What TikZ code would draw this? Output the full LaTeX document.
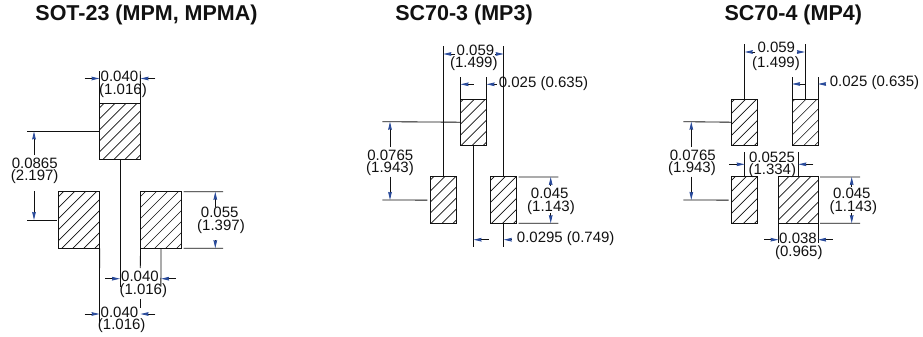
\documentclass[tikz,border=0pt]{standalone}
\usepackage{fontspec}
\setmainfont{Liberation Sans}
\usetikzlibrary{arrows.meta}
\definecolor{dimblue}{HTML}{2A4B9B}
\definecolor{ink}{HTML}{111111}
\tikzset{
  pad/.style={draw=ink,line width=1pt,inner sep=0pt,outer sep=0pt,
    minimum width=#1,minimum height=56.5pt,
    path picture={\foreach \d in {-99,-88,...,99}{
      \draw[ink,line width=0.65pt] ([xshift=\d pt]path picture bounding box.center)
        ++(-60pt,-60pt) -- ++(120pt,120pt);}}},
  pad/.default=41pt,
  pnarrow/.style={pad=26pt,minimum height=46.3pt},
  pwide/.style={pad=39.4pt,minimum height=46.3pt},
  ext/.style={draw=ink,line width=0.85pt},
  dim/.style={draw=ink,line width=0.85pt,-{Stealth[inset=0.5pt,length=8pt,width=3.6pt,color=dimblue]}},
  lbl/.style={inner sep=0pt,text=ink,font=\fontsize{15}{15}\selectfont},
  ttl/.style={inner sep=0pt,text=ink,font=\fontsize{21.5}{21.5}\selectfont\bfseries}
}
\begin{document}
\begin{tikzpicture}[x=1pt,y=-1pt]
\useasboundingbox (0,0) rectangle (923,337);
% titles
\node[ttl] (t1) at (146.5,15) {SOT-23 (MPM, MPMA)};
\node[ttl] (t2) at (464,15) {SC70-3 (MP3)};
\node[ttl] (t3) at (793.3,15) {SC70-4 (MP4)};
% ---------- SOT-23
\node[pad] (a) at (120,131.4) {};
\node[pad] (b) at (79.1,220) {};
\node[pad] (c) at (161,220) {};
\coordinate (a1) at (99.5,71); \coordinate (a2) at (140.3,71);
\draw[ext] (a.north west) -- (a1);
\draw[ext] (a.north east) -- (a2);
\coordinate (a3) at (84.7,78.5); \coordinate (a4) at (155.3,78.5);
\draw[dim] (a3) -- (a.north west |- a3);
\draw[dim] (a4) -- (a.north east |- a4);
\node[lbl] (l1) at (119.5,76.7) {0.040};
\node[lbl] (l2) at (123,91) {(1.016)};
\coordinate (a5) at (26.7,131.4); \coordinate (a6) at (26.7,220);
\draw[ext] (a.west) -- (a5);
\draw[ext] (b.west) ++(-2pt,0pt) -- (a6);
\coordinate (a7) at (34,155); \coordinate (a8) at (34,191);
\draw[dim] (a7) -- (a7 |- a.west);
\draw[dim] (a8) -- (a8 |- b.west);
\node[lbl] (l3) at (34.7,163) {0.0865};
\node[lbl] (l4) at (34.7,177) {(2.197)};
\coordinate (a9) at (223,191.7); \coordinate (a10) at (223,248.3);
\draw[ext] ([xshift=2pt]c.north east) -- (a9);
\draw[ext] ([xshift=2pt]c.south east) -- (a10);
\coordinate (a11) at (215.3,206.7); \coordinate (a12) at (215.3,240);
\draw[dim] (a11) -- (a11 |- c.north east);
\draw[dim] (a12) -- (a12 |- c.south east);
\node[lbl] (l5) at (219.7,212.7) {0.055};
\node[lbl] (l6) at (221,226.7) {(1.397)};
\coordinate (a13) at (120,286.7); \coordinate (a14) at (160.9,286.7);
\draw[ext] (a.south) -- (a13);
\draw[ext] (c.south) -- (a14);
\coordinate (a15) at (105,278.7); \coordinate (a16) at (175.7,278.7);
\draw[dim] (a15) -- (a.south |- a15);
\draw[dim] (a16) -- (c.south |- a16);
\node[lbl] (l7) at (140,276.7) {0.040};
\node[lbl] (l8) at (143.3,291) {(1.016)};
\coordinate (a17) at (99.5,323); \coordinate (a18) at (140.3,268);
\coordinate (a19) at (140.3,298.5); \coordinate (a20) at (140.3,308);
\draw[ext] (b.south east) -- (a17);
\draw[ext] (c.south west) -- (a18);
\draw[ext] (a19) -- (a20);
\coordinate (a21) at (84.7,314); \coordinate (a22) at (155.3,314);
\draw[dim] (a21) -- (b.south east |- a21);
\draw[dim] (a22) -- (c.south west |- a22);
\node[lbl] (l9) at (119.5,312.7) {0.040};
\node[lbl] (l10) at (121.7,326) {(1.016)};
% ---------- SC70-3
\node[pnarrow] (d) at (473.5,122.2) {};
\node[pnarrow] (e) at (443.3,200.1) {};
\node[pnarrow] (f) at (503.7,200.1) {};
\coordinate (d1) at (443.3,46); \coordinate (d2) at (503.7,46);
\draw[ext] (e.north) -- (d1);
\draw[ext] (f.north) -- (d2);
\coordinate (d3) at (455,54); \coordinate (d4) at (495,54);
\draw[dim] (d3) -- (e.north |- d3);
\draw[dim] (d4) -- (f.north |- d4);
\node[lbl] (m1) at (475.5,50) {0.059};
\node[lbl] (m2) at (473.8,64) {(1.499)};
\coordinate (d5) at (460.5,76.7); \coordinate (d6) at (486.5,76.7);
\draw[ext] (d.north west) -- (d5);
\draw[ext] (d.north east) -- (d6);
\coordinate (d7) at (473.5,84.3); \coordinate (d8) at (496.7,84.3);
\draw[dim] (d7) -- (d.north west |- d7);
\draw[dim] (d8) -- (d.north east |- d8);
\node[lbl] (m3) at (543.5,84) {0.025 (0.635)};
\coordinate (d9) at (382.3,121.7); \coordinate (d10) at (382.3,200);
\draw[ext] (d.west) -- (d9);
\draw[ext] ([xshift=-3pt]e.west) -- (d10);
\coordinate (d11) at (390,146.7); \coordinate (d12) at (390,176.7);
\draw[dim] (d11) -- (d11 |- d9);
\draw[dim] (d12) -- (d12 |- d10);
\node[lbl] (m4) at (390.3,155) {0.0765};
\node[lbl] (m5) at (390,168.7) {(1.943)};
\coordinate (d13) at (558.3,177); \coordinate (d14) at (558.3,223.3);
\draw[ext] ([xshift=2pt]f.north east) -- (d13);
\draw[ext] ([xshift=2pt]f.south east) -- (d14);
\coordinate (d15) at (550.7,186); \coordinate (d16) at (550.7,213.3);
\draw[dim] (d15) -- (d15 |- f.north);
\draw[dim] (d16) -- (d16 |- f.south);
\node[lbl] (m6) at (549.7,193.3) {0.045};
\node[lbl] (m7) at (551,207.3) {(1.143)};
\coordinate (d17) at (473.5,247.3); \coordinate (d18) at (503.7,247.3);
\draw[ext] (d.south) -- (d17);
\draw[ext] (f.south) -- (d18);
\coordinate (d19) at (488.5,239.7); \coordinate (d20) at (511.7,239.7);
\draw[dim] (d19) -- (d.south |- d19);
\draw[dim] (d20) -- (f.south |- d20);
\node[lbl] (m8) at (565.7,238.3) {0.0295 (0.749)};
% ---------- SC70-4
\node[pnarrow] (g) at (744.7,122.2) {};
\node[pnarrow] (h) at (805,122.2) {};
\node[pnarrow] (i) at (744.7,200.1) {};
\node[pwide] (k) at (798.3,200.1) {};
\coordinate (g1) at (744.7,44.3); \coordinate (g2) at (805,44.3);
\draw[ext] (g.north) -- (g1);
\draw[ext] (h.north) -- (g2);
\coordinate (g3) at (755,52); \coordinate (g4) at (796.7,52);
\draw[dim] (g3) -- (g.north |- g3);
\draw[dim] (g4) -- (h.north |- g4);
\node[lbl] (r1) at (776.3,47.3) {0.059};
\node[lbl] (r2) at (776,64) {(1.499)};
\coordinate (g5) at (792,76.7); \coordinate (g6) at (818,76.7);
\draw[ext] (h.north west) -- (g5);
\draw[ext] (h.north east) -- (g6);
\coordinate (g7) at (805,84); \coordinate (g8) at (825,84);
\draw[dim] (g7) -- (h.north west |- g7);
\draw[dim] (g8) -- (h.north east |- g8);
\node[lbl] (r3) at (874.5,83) {0.025 (0.635)};
\coordinate (g9) at (683.3,121.7); \coordinate (g10) at (683.3,200);
\draw[ext] (g.west) -- (g9);
\draw[ext] ([xshift=-3pt]i.west) -- (g10);
\coordinate (g11) at (691.3,146.7); \coordinate (g12) at (691.3,176.7);
\draw[dim] (g11) -- (g11 |- g9);
\draw[dim] (g12) -- (g12 |- g10);
\node[lbl] (r4) at (692.8,155) {0.0765};
\node[lbl] (r5) at (692,168.7) {(1.943)};
\coordinate (g13) at (744.7,151.7); \coordinate (g14) at (798.3,151.7);
\draw[ext] (i.north) -- (g13);
\draw[ext] (k.north) -- (g14);
\coordinate (g15) at (729.3,164.3); \coordinate (g16) at (813.3,164.3);
\draw[dim] (g15) -- (i.north |- g15);
\draw[dim] (g16) -- (k.north |- g16);
\node[lbl] (r6) at (772,157.3) {0.0525};
\node[lbl] (r7) at (772.3,171) {(1.334)};
\coordinate (g17) at (860,177); \coordinate (g18) at (860,223.3);
\draw[ext] ([xshift=2pt]k.north east) -- (g17);
\draw[ext] ([xshift=2pt]k.south east) -- (g18);
\coordinate (g19) at (851.7,186.7); \coordinate (g20) at (851.7,213);
\draw[dim] (g19) -- (g19 |- k.north);
\draw[dim] (g20) -- (g20 |- k.south);
\node[lbl] (r8) at (851.8,193.3) {0.045};
\node[lbl] (r9) at (853.3,207.3) {(1.143)};
\coordinate (g21) at (778.6,243); \coordinate (g22) at (818,243);
\draw[ext] (k.south west) -- (g21);
\draw[ext] (k.south east) -- (g22);
\coordinate (g23) at (764,239.7); \coordinate (g24) at (832.7,239.7);
\draw[dim] (g23) -- (k.south west |- g23);
\draw[dim] (g24) -- (k.south east |- g24);
\node[lbl] (r10) at (798,238.3) {0.038};
\node[lbl] (r11) at (798.8,252.3) {(0.965)};
\end{tikzpicture}
\end{document}
